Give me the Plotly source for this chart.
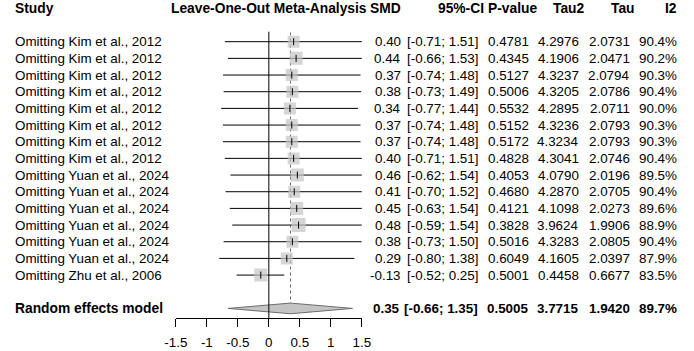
import plotly.graph_objects as go

# ---------------- data ----------------
studies = ["Omitting Kim et al., 2012"] * 8 + ["Omitting Yuan et al., 2024"] * 6 + ["Omitting Zhu et al., 2006"]
smd = [0.40, 0.44, 0.37, 0.38, 0.34, 0.37, 0.37, 0.40, 0.46, 0.41, 0.45, 0.48, 0.38, 0.29, -0.13]
ci_lower = [-0.71, -0.66, -0.74, -0.73, -0.77, -0.74, -0.74, -0.71, -0.62, -0.70, -0.63, -0.59, -0.73, -0.80, -0.52]
ci_upper = [1.51, 1.53, 1.48, 1.49, 1.44, 1.48, 1.48, 1.51, 1.54, 1.52, 1.54, 1.54, 1.50, 1.38, 0.25]
p_value = [0.4781, 0.4345, 0.5127, 0.5006, 0.5532, 0.5152, 0.5172, 0.4828, 0.4053, 0.4680, 0.4121, 0.3828, 0.5016, 0.6049, 0.5001]
tau2 = [4.2976, 4.1906, 4.3237, 4.3205, 4.2895, 4.3236, 4.3234, 4.3041, 4.0790, 4.2870, 4.1098, 3.9624, 4.3283, 4.1605, 0.4458]
tau = [2.0731, 2.0471, 2.0794, 2.0786, 2.0711, 2.0793, 2.0793, 2.0746, 2.0196, 2.0705, 2.0273, 1.9906, 2.0805, 2.0397, 0.6677]
i2 = [90.4, 90.2, 90.3, 90.4, 90.0, 90.3, 90.3, 90.4, 89.5, 90.4, 89.6, 88.9, 90.4, 87.9, 83.5]
square_size = [12, 13, 12, 12, 12, 12, 12, 12, 13, 12, 13, 14, 12, 12, 13]

re_label = "Random effects model"
re_smd, re_lower, re_upper = 0.35, -0.66, 1.35
re_p, re_tau2, re_tau, re_i2 = 0.5005, 3.7715, 1.9420, 89.7

tick_vals = [-1.5, -1, -0.5, 0, 0.5, 1, 1.5]
tick_text = ["-1.5", "-1", "-0.5", "0", "0.5", "1", "1.5"]

headers = ["Study", "Leave-One-Out Meta-Analysis", "SMD", "95%-CI", "P-value", "Tau2", "Tau", "I2"]

# ---------------- layout constants ----------------
W, H = 694, 351
FONT = "Liberation Sans, Arial, sans-serif"
FS = 13.4      # regular text
FSB = 13.8     # bold header text
FSV = 13.4     # bold pooled-row values
rows = list(range(1, len(studies) + 1))
re_row = len(studies) + 2
header_row = -1

fig = go.Figure()

# CI lines
lx, ly = [], []
for r, lo, hi in zip(rows, ci_lower, ci_upper):
    lx += [lo, hi, None]
    ly += [r, r, None]
fig.add_trace(go.Scatter(x=lx, y=ly, mode="lines", line=dict(color="black", width=1),
                         hoverinfo="skip", showlegend=False))

# dotted line at pooled estimate
fig.add_trace(go.Scatter(x=[re_smd, re_smd], y=[0.45, re_row - 0.3], mode="lines",
                         line=dict(color="#666666", width=1, dash="dot"),
                         hoverinfo="skip", showlegend=False))

# squares
fig.add_trace(go.Scatter(x=smd, y=rows, mode="markers",
                         marker=dict(symbol="square", size=square_size, color="#c4c4c4",
                                     line=dict(width=0)),
                         hoverinfo="skip", showlegend=False))
# center ticks
fig.add_trace(go.Scatter(x=smd, y=rows, mode="markers",
                         marker=dict(symbol="line-ns", size=5, line=dict(color="black", width=1)),
                         hoverinfo="skip", showlegend=False))

# diamond
dh = 0.32
fig.add_trace(go.Scatter(x=[re_lower, re_smd, re_upper, re_smd, re_lower],
                         y=[re_row, re_row - dh, re_row, re_row + dh, re_row],
                         mode="lines", fill="toself", fillcolor="#c4c4c4",
                         line=dict(color="#6e6e6e", width=1),
                         hoverinfo="skip", showlegend=False))

# zero line
fig.add_shape(type="line", xref="x", yref="y", x0=0, x1=0, y0=0.4, y1=17.58,
              line=dict(color="black", width=1))

# ---------------- text columns ----------------
col_right = {"SMD": 402, "CI": 482, "P": 534, "Tau2": 586, "Tau": 638, "I2": 687}
head_right = {"SMD": 402, "CI": 488, "P": 542, "Tau2": 592, "Tau": 643, "I2": 687}


def ann(text, xpx, y, anchor="right", bold=False, size=FS):
    fig.add_annotation(x=xpx / W, xref="paper", y=y, yref="y", text=(f"<b>{text}</b>" if bold else text),
                       showarrow=False, xanchor=anchor, yanchor="middle",
                       font=dict(family=FONT, size=size, color="black"), borderpad=0)


# headers
ann(headers[0], 2, header_row, anchor="left", bold=True, size=FSB)
fig.add_annotation(x=0, xref="x", y=header_row, yref="y", text=f"<b>{headers[1]}</b>", showarrow=False,
                   xanchor="center", yanchor="middle", font=dict(family=FONT, size=FSB, color="black"),
                   borderpad=0)
for key, h in zip(["SMD", "CI", "P", "Tau2", "Tau", "I2"], headers[2:]):
    ann(h, head_right[key], header_row, bold=True, size=FSB)

# study rows
for r, s, m, lo, hi, p, t2, t, i in zip(rows, studies, smd, ci_lower, ci_upper, p_value, tau2, tau, i2):
    ann(s, 2, r, anchor="left")
    ann(f"{m:.2f}", col_right["SMD"], r)
    ann(f"[{lo:.2f}; {hi:.2f}]", col_right["CI"], r)
    ann(f"{p:.4f}", col_right["P"], r)
    ann(f"{t2:.4f}", col_right["Tau2"], r)
    ann(f"{t:.4f}", col_right["Tau"], r)
    ann(f"{i:.1f}%", col_right["I2"], r)

# pooled row
ann(re_label, 2, re_row, anchor="left", bold=True, size=FSB)
ann(f"{re_smd:.2f}", col_right["SMD"] - 1, re_row, bold=True, size=FSV)
ann(f"[{re_lower:.2f}; {re_upper:.2f}]", col_right["CI"], re_row, bold=True, size=FSV)
ann(f"{re_p:.4f}", col_right["P"], re_row, bold=True, size=FSV)
ann(f"{re_tau2:.4f}", col_right["Tau2"], re_row, bold=True, size=FSV)
ann(f"{re_tau:.4f}", col_right["Tau"], re_row, bold=True, size=FSV)
ann(f"{re_i2:.1f}%", col_right["I2"], re_row, bold=True, size=FSV)

# ---------------- axes ----------------
row_px = 16.67
row1_px = 41.7
axis_px = 318
y_top = 1 - row1_px / row_px
y_bot = 1 + (axis_px - row1_px) / row_px

fig.update_layout(
    width=W, height=H, autosize=False,
    margin=dict(l=0, r=0, t=0, b=0),
    paper_bgcolor="white", plot_bgcolor="white",
    font=dict(family=FONT, size=FS, color="black"),
    xaxis=dict(domain=[169 / W, 360.7 / W], range=[-1.5, 1.5], showgrid=False, zeroline=False,
               showline=True, linecolor="black", linewidth=1, ticks="outside", ticklen=8,
               tickcolor="black", tickwidth=1, tickvals=tick_vals, ticktext=tick_text,
               tickfont=dict(family=FONT, size=FS, color="black"), ticklabelstandoff=4,
               fixedrange=True),
    yaxis=dict(domain=[(H - axis_px) / H, 1], range=[y_bot, y_top], visible=False, fixedrange=True),
)

fig.write_html("out.html")
